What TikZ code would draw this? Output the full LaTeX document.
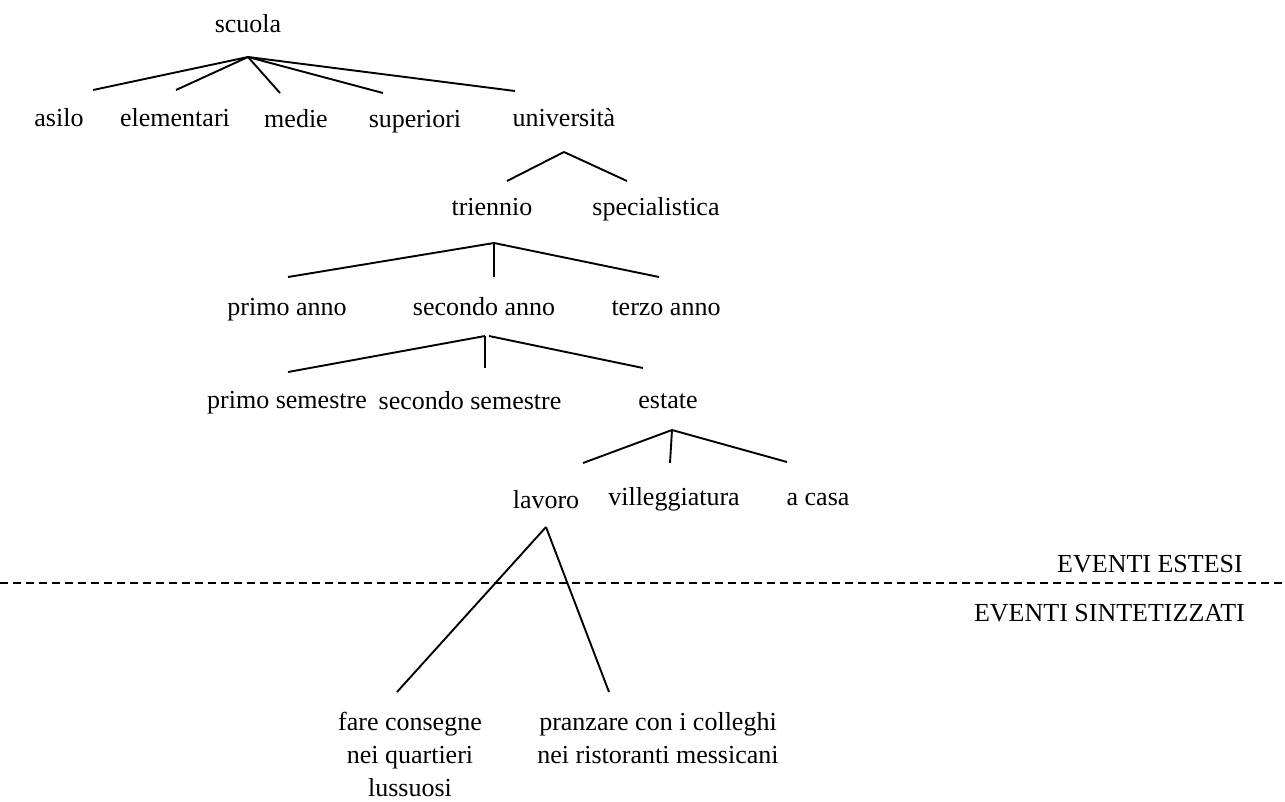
\documentclass[tikz,border=0pt]{standalone}
\usepackage{fontspec}
\setmainfont{Liberation Serif}
\begin{document}
\begin{tikzpicture}[x=1pt,y=-1pt,
  lbl/.style={anchor=base,inner sep=0pt,font=\fontsize{26}{33}\selectfont},
  multi/.style={anchor=north,inner sep=0pt,align=center,font=\fontsize{26}{33}\selectfont},
  edge/.style={line width=1.9pt},
  sep/.style={line width=1.3pt,dash pattern=on 8pt off 5pt}]
\useasboundingbox (0,0) rectangle (1285,801);
% labels
\node[lbl] (scuola) at (248,32) {scuola};
\node[lbl] (asilo) at (59,126) {asilo};
\node[lbl] (elem) at (175,126) {elementari};
\node[lbl] (medie) at (296,127) {medie};
\node[lbl] (sup) at (415,127) {superiori};
\node[lbl] (univ) at (564,126) {università};
\node[lbl] (tri) at (492,215) {triennio};
\node[lbl] (spec) at (656,215) {specialistica};
\node[lbl] (primoa) at (287,315) {primo anno};
\node[lbl] (secondoa) at (484,315) {secondo anno};
\node[lbl] (terzoa) at (666,315) {terzo anno};
\node[lbl] (primos) at (287,408) {primo semestre};
\node[lbl] (secondos) at (470,409) {secondo semestre};
\node[lbl] (estate) at (668,408) {estate};
\node[lbl] (lavoro) at (546,508) {lavoro};
\node[lbl] (villeg) at (674,505) {villeggiatura};
\node[lbl] (acasa) at (818,505) {a casa};
\node[lbl,anchor=base east] (estesi) at (1243,572) {EVENTI ESTESI};
\node[lbl,anchor=base east] (sint) at (1245,621) {EVENTI SINTETIZZATI};
\node[multi] (fare) at (410,712) {fare consegne\\nei quartieri\\lussuosi};
\node[multi] (pranz) at (658,712) {pranzare con i colleghi\\nei ristoranti messicani};
% apexes and line ends
\coordinate (scuola-a) at (248,57);
\coordinate (asilo-t) at (93,90);
\coordinate (elem-t) at (176,90);
\coordinate (medie-t) at (280,93);
\coordinate (sup-t) at (383,93);
\coordinate (univ-t) at (515,91);
\coordinate (univ-a) at (564,152);
\coordinate (tri-t) at (507,181);
\coordinate (spec-t) at (627,181);
\coordinate (tri-a) at (494,243);
\coordinate (primoa-t) at (288,277);
\coordinate (secondoa-t) at (494,277);
\coordinate (terzoa-t) at (659,277);
\coordinate (secondoa-aL) at (485,336);
\coordinate (secondoa-aR) at (489,336);
\coordinate (primos-t) at (288,372);
\coordinate (secondos-t) at (485,368);
\coordinate (estate-t) at (643,368);
\coordinate (estate-a) at (672,430);
\coordinate (lavoro-t) at (583,463);
\coordinate (villeg-t) at (670,463);
\coordinate (acasa-t) at (787,462);
\coordinate (lavoro-a) at (546,527);
\coordinate (fare-t) at (397,692);
\coordinate (pranz-t) at (609,692);
\coordinate (sepL) at (0,583);
\coordinate (sepR) at (1285,583);
% connectors
\foreach \c in {asilo,elem,medie,sup,univ} \draw[edge] (scuola-a) -- (\c-t);
\foreach \c in {tri,spec} \draw[edge] (univ-a) -- (\c-t);
\foreach \c in {primoa,secondoa,terzoa} \draw[edge] (tri-a) -- (\c-t);
\draw[edge] (secondoa-aL) -- (primos-t);
\draw[edge] (secondoa-aL) -- (secondos-t);
\draw[edge] (secondoa-aR) -- (estate-t);
\foreach \c in {lavoro,villeg,acasa} \draw[edge] (estate-a) -- (\c-t);
\foreach \c in {fare,pranz} \draw[edge] (lavoro-a) -- (\c-t);
\draw[sep] (sepL) -- (sepR);
\end{tikzpicture}
\end{document}
